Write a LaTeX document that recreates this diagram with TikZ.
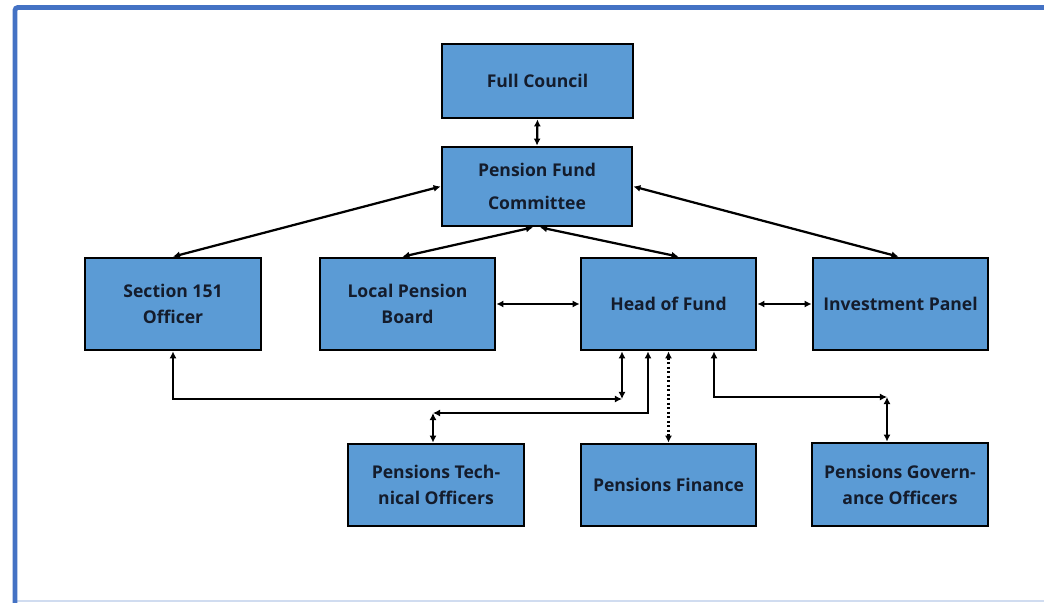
\documentclass[tikz,border=0pt]{standalone}
\usepackage{fontspec}
\setmainfont{Open Sans}
\usetikzlibrary{arrows.meta,calc}
\definecolor{boxblue}{RGB}{91,155,213}
\definecolor{framblue}{RGB}{68,114,196}
\definecolor{textnavy}{RGB}{20,28,44}
\begin{document}
\begin{tikzpicture}[x=0.025cm,y=-0.025cm,
    box/.style={draw=black,line width=1.9pt,fill=boxblue,text=textnavy,
      align=center,inner sep=0pt,minimum width=4.375cm,minimum height=2.3cm,
      font=\bfseries\fontsize{12.5}{18.5}\selectfont},
    link/.style={line width=1.6pt,{Latex[length=5pt,width=5pt]}-{Latex[length=5pt,width=5pt]}}]
    \useasboundingbox (0,0) rectangle (1044,603);
    % Frame
    \draw[framblue!25,line width=1.5pt] (15,601) -- (1044,601);
    \draw[framblue,line width=3.4pt,rounded corners=2pt] (15,603) -- (15,7.5) -- (1050,7.5);
    % Boxes
    \node[box,minimum width=4.775cm,minimum height=1.85cm] (fc) at (537.5,81) {Full Council};
    \node[box,minimum width=4.75cm,minimum height=1.975cm] (pfc) at (537,186.5) {Pension Fund\\[5pt]Committee};
    \node[box,minimum width=4.4cm] (s151) at (173,304) {Section 151\\Officer};
    \node[box] (lpb) at (407.5,304) {Local Pension\\Board};
    \node[box] (hof) at (668.5,304) {Head of Fund};
    \node[box] (ip) at (900.5,304) {Investment Panel};
    \node[box,minimum width=4.4cm,minimum height=2.05cm] (pto) at (436,485) {Pensions Tech-\\nical Officers};
    \node[box,minimum height=2.05cm] (pf) at (668.5,485) {Pensions Finance};
    \node[box,minimum width=4.4cm,minimum height=2.075cm] (pgo) at (900,484.5) {Pensions Govern-\\ance Officers};
    % Junctions
    \coordinate (j1) at (622,399);
    \coordinate (k2) at (648,413);
    \coordinate (j2) at (433,413);
    \coordinate (k3) at (714,397);
    \coordinate (j3) at (887,397);
    % Arrows
    \draw[link] (fc.south) -- (pfc.north);
    \draw[link] (pfc.west) -- (s151.north);
    \draw[link] ($(pfc.south)+(-4,0)$) -- ($(lpb.north)+(-5,0)$);
    \draw[link] ($(pfc.south)+(3,0)$) -- ($(hof.north)+(10,0)$);
    \draw[link] (pfc.east) -- ($(ip.north)+(-2,0)$);
    \draw[link] (lpb.east) -- (hof.west);
    \draw[link] (hof.east) -- (ip.west);
    \draw[link] (s151.south) |- (j1);
    \draw[link] (j1 |- hof.south) -- (j1);
    \draw[link] (k2 |- hof.south) -- (k2) -- (j2);
    \draw[link] (j2) -- (j2 |- pto.north);
    \draw[link,dash pattern=on 1.6pt off 1.6pt] (hof.south) -- (pf.north);
    \draw[link] (k3 |- hof.south) -- (k3) -- (j3);
    \draw[link] (j3) -- (j3 |- pgo.north);
\end{tikzpicture}
\end{document}
